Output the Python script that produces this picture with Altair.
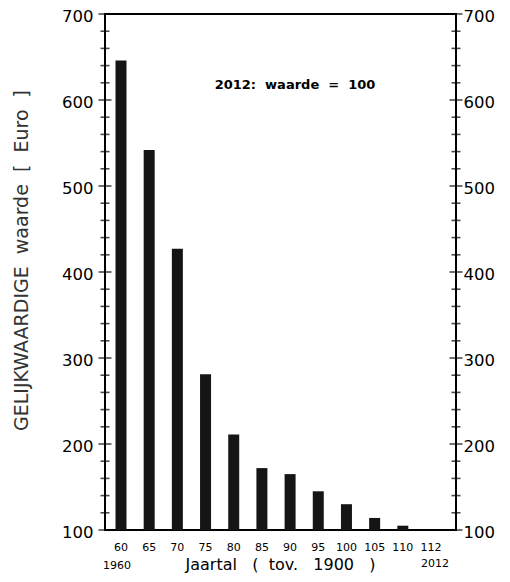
import altair as alt
import pandas as pd

# data (value with 2012 = 100)
years = ["60", "65", "70", "75", "80", "85", "90", "95", "100", "105", "110", "112"]
values = [646, 542, 427, 281, 211, 172, 165, 145, 130, 114, 105, 100]
major_ticks = [100, 200, 300, 400, 500, 600, 700]
minor_ticks = [120, 140, 160, 180, 220, 240, 260, 280, 320, 340, 360, 380,
               420, 440, 460, 480, 520, 540, 560, 580, 620, 640, 660, 680]

FONT = "DejaVu Sans"
W, H = 351, 516
SP = "\u00a0"

df = pd.DataFrame({"year": years, "value": values})
dmaj = pd.DataFrame({"v": major_ticks})
dmin = pd.DataFrame({"v": minor_ticks})

yscale = alt.Scale(domain=[100, 700], nice=False, zero=False)
xscale = alt.Scale(domain=years, range=[10.5, 331.5], paddingInner=0.61, paddingOuter=0)

xtitle = "Jaartal" + SP * 3 + "(" + SP * 2 + "tov." + SP * 3 + "1900" + SP * 3 + ")"
ytitle = "GELIJKWAARDIGE" + SP * 2 + "waarde" + SP * 2 + "[" + SP * 2 + "Euro" + SP * 2 + "]"
note_text = "2012:" + SP * 2 + "waarde" + SP * 2 + "=" + SP * 2 + "100"

xaxis = alt.Axis(title=xtitle, labelAngle=0, labelFontSize=11,
                 labelFont=FONT, labelColor="black", labelPadding=11,
                 ticks=False, domain=False, grid=False, titleFont=FONT, titleFontSize=16,
                 titleFontWeight="normal", titleColor="black", titleY=34,
                 titleX=175, titleBaseline="middle")

bars = alt.Chart(df).mark_bar(size=11, color="#151515").encode(
    x=alt.X("year:O", scale=xscale, sort=years, axis=xaxis),
    y=alt.Y("value:Q", scale=yscale,
            axis=alt.Axis(values=major_ticks, title=ytitle,
                          labelFont=FONT, labelFontSize=16.5, labelColor="black",
                          labelPadding=12, labelOffset=2, ticks=False, domain=False,
                          grid=False, titleFont=FONT, titleFontSize=19,
                          titleFontWeight="normal", titleColor="#333", titleX=-84,
                          titleY=246, titleBaseline="middle")),
    y2=alt.datum(100),
)

right_axis = alt.Chart(dmaj).mark_tick(opacity=0).encode(
    y=alt.Y("v:Q", scale=yscale,
            axis=alt.Axis(orient="right", values=major_ticks, title=None,
                          labelFont=FONT, labelFontSize=16.5, labelColor="black",
                          labelPadding=7, labelOffset=2, ticks=False, domain=False,
                          grid=False)),
    x=alt.value(W),
)

def ticks(d, size, xpos):
    return alt.Chart(d).mark_tick(size=size, thickness=1.6, color="black").encode(
        y=alt.Y("v:Q", scale=yscale, axis=None),
        x=alt.value(xpos),
    )

note = alt.Chart(pd.DataFrame({"t": [note_text]})).mark_text(
    font=FONT, fontSize=13, fontWeight="bold", color="black", align="center"
).encode(text="t:N", x=alt.value(190), y=alt.YDatum(618, scale=yscale, axis=None))

lab1960 = alt.Chart(pd.DataFrame({"t": ["1960"]})).mark_text(
    font=FONT, fontSize=11, color="black", align="center", dx=-4
).encode(text="t:N", x=alt.XDatum("60", scale=xscale, axis=xaxis), y=alt.value(H + 36))

lab2012 = alt.Chart(pd.DataFrame({"t": ["2012"]})).mark_text(
    font=FONT, fontSize=11, color="black", align="center", dx=4
).encode(text="t:N", x=alt.XDatum("112", scale=xscale, axis=xaxis), y=alt.value(H + 34))

chart = alt.layer(
    bars, right_axis,
    ticks(dmaj, 13, 0), ticks(dmin, 9, 0),
    ticks(dmaj, 13, W), ticks(dmin, 9, W),
    note, lab1960, lab2012,
).resolve_axis(y="independent").properties(
    width=W, height=H,
    padding={"left": 97, "top": 6, "right": 45, "bottom": 44},
    autosize="none",
    background="white",
).configure_view(stroke="black", strokeWidth=2)

chart.save("out.html", embed_options={"renderer": "svg", "actions": False})
